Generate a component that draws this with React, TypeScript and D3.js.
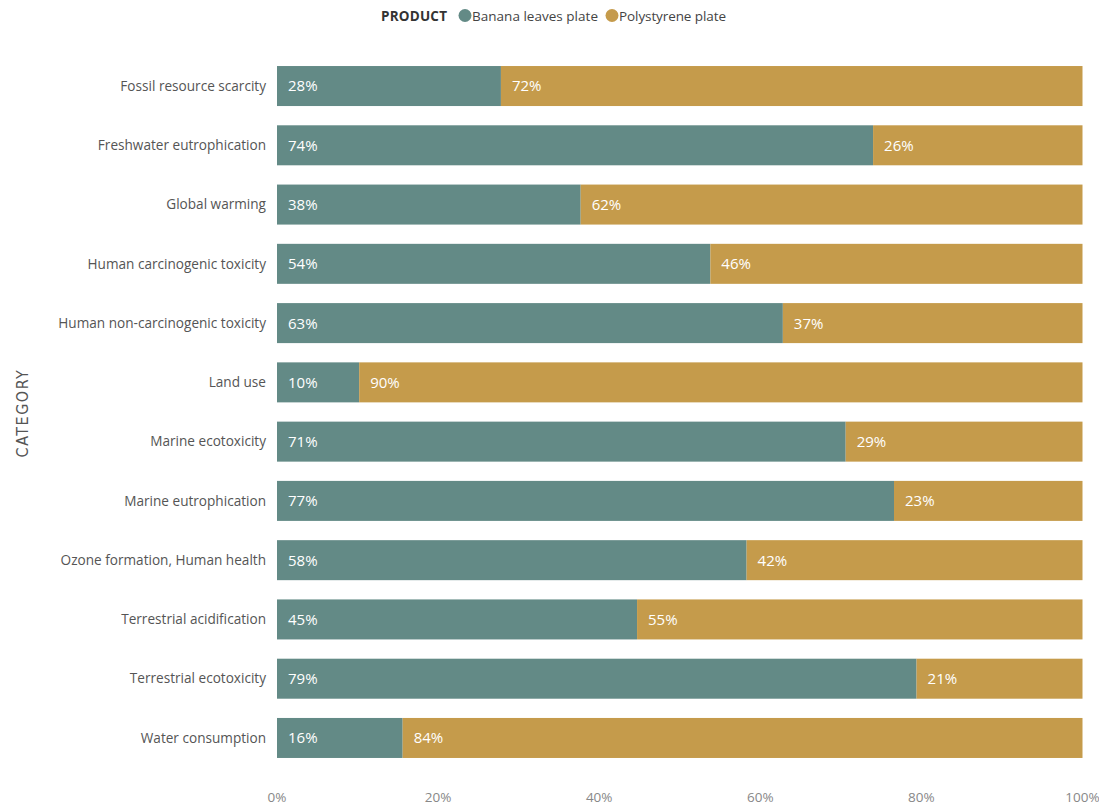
import React from "react";
import * as d3 from "d3";

const categories = [
  "Fossil resource scarcity",
  "Freshwater eutrophication",
  "Global warming",
  "Human carcinogenic toxicity",
  "Human non-carcinogenic toxicity",
  "Land use",
  "Marine ecotoxicity",
  "Marine eutrophication",
  "Ozone formation, Human health",
  "Terrestrial acidification",
  "Terrestrial ecotoxicity",
  "Water consumption",
];
const bananaValues = [27.8, 74.0, 37.7, 53.8, 62.8, 10.2, 70.6, 76.6, 58.3, 44.7, 79.4, 15.6];
const polystyreneValues = bananaValues.map((v) => 100 - v);
const seriesNames = ["Banana leaves plate", "Polystyrene plate"];
const seriesColors = ["#638a86", "#c59b4b"];
const xTicks = [0, 20, 40, 60, 80, 100];

const W = 1099;
const H = 805;
const FONT = "'Open Sans', 'Noto Sans', sans-serif";

export default function App() {
  const x = d3.scaleLinear().domain([0, 100]).range([277, 1082.5]);
  const y = d3
    .scaleBand<string>()
    .domain(categories)
    .range([56.4, 767.6])
    .paddingInner(0.325)
    .paddingOuter(0.1625);
  const bw = y.bandwidth();
  const fmt = (v: number) => `${Math.round(v)}%`;

  return (
    <svg
      width={W}
      height={H}
      style={{ position: "absolute", left: 0, top: 0, background: "#fff" }}
      fontFamily={FONT}
    >
      {/* Legend */}
      <g>
        <text x={381} y={20.5} fontSize={13.5} fontWeight={700} fill="#333" textLength={66}>
          PRODUCT
        </text>
        <circle cx={465} cy={15.5} r={6.5} fill={seriesColors[0]} />
        <text x={472} y={20.5} fontSize={13.5} fill="#444" textLength={126}>
          {seriesNames[0]}
        </text>
        <circle cx={612} cy={15.5} r={6.5} fill={seriesColors[1]} />
        <text x={619} y={20.5} fontSize={13.5} fill="#444" textLength={107}>
          {seriesNames[1]}
        </text>
      </g>

      {/* Y axis title */}
      <text
        transform={`translate(28,413) rotate(-90)`}
        textAnchor="middle"
        fontSize={16}
        fill="#555"
        letterSpacing={1.5}
        fontFamily="'DejaVu Sans Condensed', Roboto, sans-serif"
      >
        CATEGORY
      </text>

      {/* Bars */}
      {categories.map((c, i) => {
        const y0 = y(c)!;
        const b = bananaValues[i];
        const p = polystyreneValues[i];
        return (
          <g key={c}>
            <text
              x={266}
              y={y0 + bw / 2}
              dy="0.35em"
              textAnchor="end"
              fontSize={13.6}
              fill="#555"
            >
              {c}
            </text>
            <rect x={x(0)} y={y0} width={x(b) - x(0)} height={bw} fill={seriesColors[0]} />
            <rect x={x(b)} y={y0} width={x(100) - x(b)} height={bw} fill={seriesColors[1]} />
            <text x={x(0) + 11} y={y0 + bw / 2} dy="0.36em" fontSize={15} fill="#fff">
              {fmt(b)}
            </text>
            <text x={x(b) + 11} y={y0 + bw / 2} dy="0.36em" fontSize={15} fill="#fff">
              {fmt(p)}
            </text>
          </g>
        );
      })}

      {/* X axis ticks */}
      {xTicks.map((t) => (
        <text key={t} x={x(t)} y={802} textAnchor="middle" fontSize={13.5} fill="#888">
          {t}%
        </text>
      ))}
    </svg>
  );
}
